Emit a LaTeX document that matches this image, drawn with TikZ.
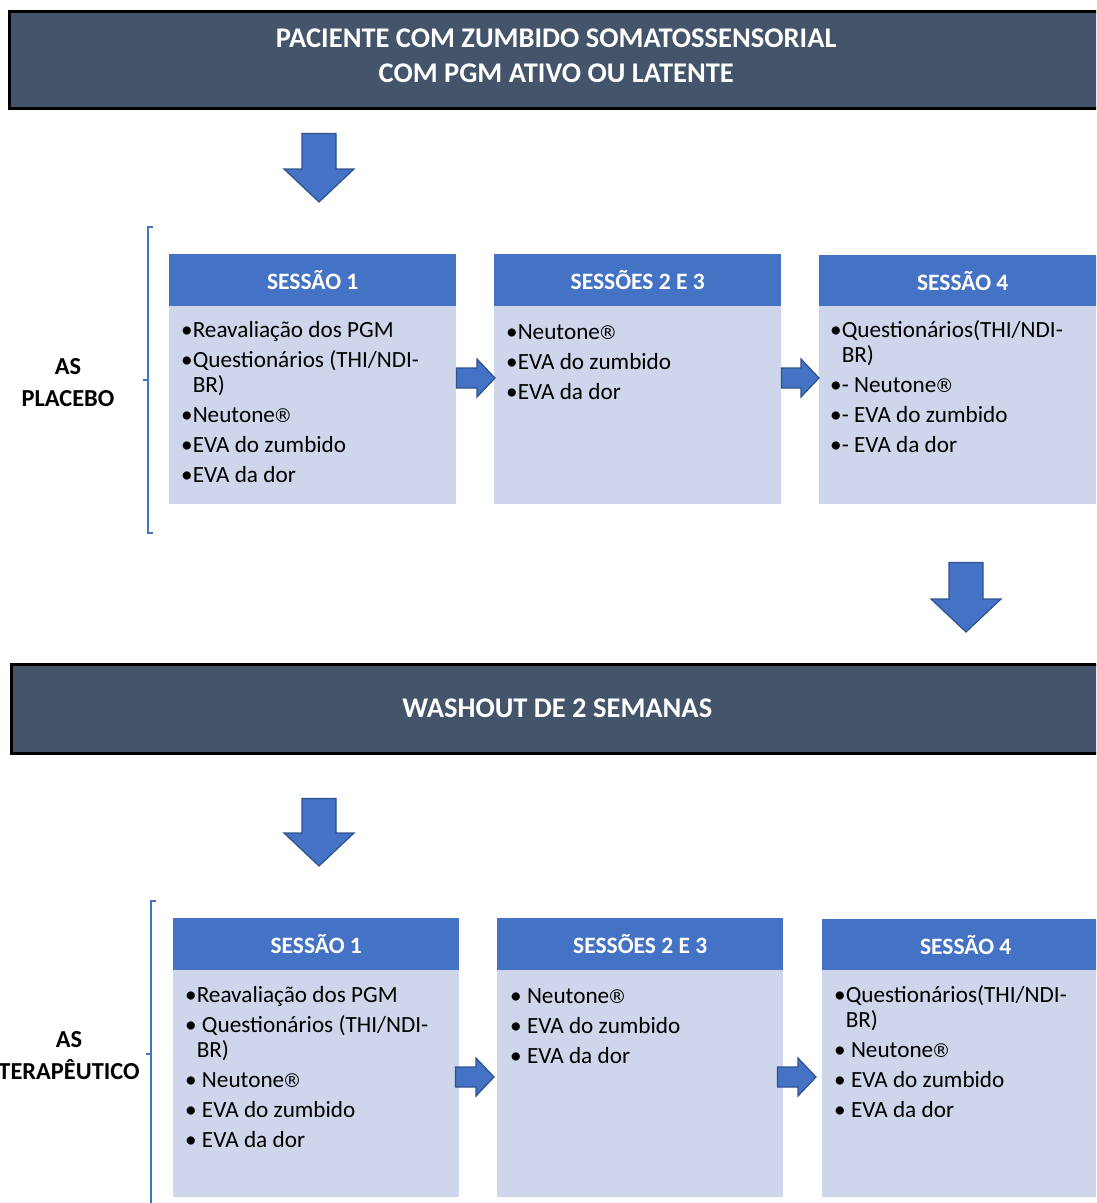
\documentclass[tikz,border=0pt]{standalone}
\usepackage{fontspec}
\setmainfont{Carlito}
\newfontfamily\regfont{DejaVu Sans}
\usetikzlibrary{calc}

\definecolor{bannergray}{HTML}{44546A}
\definecolor{hdrblue}{HTML}{4472C4}
\definecolor{bodyblue}{HTML}{CFD5EA}
\definecolor{edgeblue}{HTML}{2F528F}

% block arrows: #1 = start of shaft, #2 = tip
\newcommand{\blkdown}[2]{%
  \draw[blk] ($(#1)+(-17,0)$) -- ($(#2)+(-17,-33)$) -- ($(#2)+(-35,-33)$) -- (#2)
    -- ($(#2)+(35,-33)$) -- ($(#2)+(17,-33)$) -- ($(#1)+(17,0)$) -- cycle;}
\newcommand{\blkright}[2]{%
  \draw[blk] ($(#1)+(0,-10)$) -- ($(#2)+(-18,-10)$) -- ($(#2)+(-18,-19)$) -- (#2)
    -- ($(#2)+(-18,19)$) -- ($(#2)+(-18,10)$) -- ($(#1)+(0,10)$) -- cycle;}
\newcommand{\cont}[1]{\phantom{•}#1}
\newcommand{\reg}{\kern-1.5pt{\regfont\fontsize{19}{25}\selectfont ®}}

\begin{document}
\begin{tikzpicture}[x=1pt,y=-1pt]
\tikzstyle{bannerbox} = [rectangle, fill=bannergray, draw=black, line width=2.5pt, anchor=north west]
\tikzstyle{bannertxt} = [text=white, align=center, font=\bfseries\fontsize{28.5}{35}\selectfont]
\tikzstyle{hdr} = [rectangle, fill=hdrblue, text=white, minimum width=287pt, minimum height=52pt, anchor=north west, inner sep=0pt, font=\bfseries\fontsize{23.5}{25}\selectfont]
\tikzstyle{body} = [rectangle, fill=bodyblue, minimum width=287pt, anchor=north west, inner sep=0pt]
\tikzstyle{items} = [align=left, anchor=north west, inner sep=0pt, font=\fontsize{23.2}{25}\selectfont]
\tikzstyle{group} = [align=center, font=\bfseries\fontsize{24.4}{32}\selectfont]
\tikzstyle{blk} = [fill=hdrblue, draw=edgeblue, line width=1.2pt, line join=miter]
\tikzstyle{brk} = [draw=hdrblue, line width=1.2pt]

\useasboundingbox (0,0) rectangle (1096,1203);
\clip (0,0) rectangle (1096,1203);

    \path
        (8, 10) node[bannerbox, minimum width=1094pt, minimum height=97pt] (paciente) {}
        (10, 663) node[bannerbox, minimum width=1092pt, minimum height=89pt] (washout) {};
    \node[bannertxt] (pacientetxt) at ($(paciente.center)+(0,-4)$) {PACIENTE COM ZUMBIDO SOMATOSSENSORIAL\\COM PGM ATIVO OU LATENTE};
    \node[bannertxt] (washouttxt) at ($(washout.center)+(0,-1)$) {WASHOUT DE 2 SEMANAS};

    % placebo block
    \path
        (68, 383) node[group] (placebo) {AS\\PLACEBO}
        (169, 254) node[hdr] (h11) {SESSÃO 1}
        (494, 254) node[hdr] (h12) {SESSÕES 2 E 3}
        (819, 255) node[hdr, minimum height=51pt] (h13) {SESSÃO 4}
        (169, 306) node[body, minimum height=198pt] (b11) {}
        (494, 306) node[body, minimum height=198pt] (b12) {}
        (819, 306) node[body, minimum height=198pt] (b13) {};

    \node[items] (t11) at (181, 319) {\rule{0pt}{18pt}•Reavaliação dos PGM\\[5pt]
        •Questionários (THI/NDI-\\ \cont{BR)}\\[5pt] •Neutone\reg\\[5pt] •EVA do zumbido\\[5pt] •EVA da dor};
    \node[items] (t12) at (506, 321) {\rule{0pt}{18pt}•Neutone\reg\\[5pt] •EVA do zumbido\\[5pt] •EVA da dor};
    \node[items] (t13) at (830, 319) {\rule{0pt}{18pt}•Questionários(THI/NDI-\\ \cont{BR)}\\[5pt]
        •- Neutone\reg\\[5pt] •- EVA do zumbido\\[5pt] •- EVA da dor};

    % terapeutico block
    \path
        (69, 1056) node[group] (terapeutico) {AS\\TERAPÊUTICO}
        (173, 918) node[hdr, minimum width=286pt] (h21) {SESSÃO 1}
        (497, 918) node[hdr, minimum width=286pt] (h22) {SESSÕES 2 E 3}
        (822, 919) node[hdr, minimum height=51pt] (h23) {SESSÃO 4}
        (173, 970) node[body, minimum width=286pt, minimum height=227pt] (b21) {}
        (497, 970) node[body, minimum width=286pt, minimum height=227pt] (b22) {}
        (822, 970) node[body, minimum height=227pt] (b23) {};

    \node[items] (t21) at (185, 984) {\rule{0pt}{18pt}•Reavaliação dos PGM\\[5pt]
        • Questionários (THI/NDI-\\ \cont{BR)}\\[5pt] • Neutone\reg\\[5pt] • EVA do zumbido\\[5pt] • EVA da dor};
    \node[items] (t22) at (510, 985) {\rule{0pt}{18pt}• Neutone\reg\\[5pt] • EVA do zumbido\\[5pt] • EVA da dor};
    \node[items] (t23) at (834, 984) {\rule{0pt}{18pt}•Questionários(THI/NDI-\\ \cont{BR)}\\[5pt]
        • Neutone\reg\\[5pt] • EVA do zumbido\\[5pt] • EVA da dor};

    % brackets
    \draw[brk] (153, 227) -- (148, 227) -- (148, 533) -- (153, 533);
    \draw[brk] (148, 380) -- (143, 380);
    \draw[brk] (156, 901) -- (151, 901) -- (151, 1210);
    \draw[brk] (151, 1054) -- (146, 1054);

    % arrows
    \coordinate (d1s) at ($(paciente.south west)+(311,24)$);
    \coordinate (d1e) at ($(h11.north west)+(150,-52)$);
    \coordinate (d2s) at ($(b13.south west)+(147,58)$);
    \coordinate (d2e) at ($(washout.north west)+(956,-31)$);
    \coordinate (d3s) at ($(washout.south west)+(309,44)$);
    \coordinate (d3e) at ($(h21.north west)+(146,-52)$);
    \coordinate (r1s) at ($(b11.north east)+(0,72)$);
    \coordinate (r1e) at ($(b12.north west)+(1,72)$);
    \coordinate (r2s) at ($(b12.north east)+(0,72)$);
    \coordinate (r2e) at ($(b13.north west)+(0,72)$);
    \coordinate (r3s) at ($(b21.north east)+(-4,107)$);
    \coordinate (r3e) at ($(b22.north west)+(-3,107)$);
    \coordinate (r4s) at ($(b22.north east)+(-6,107)$);
    \coordinate (r4e) at ($(b23.north west)+(-6,107)$);

    \blkdown{d1s}{d1e}
    \blkdown{d2s}{d2e}
    \blkdown{d3s}{d3e}
    \blkright{r1s}{r1e}
    \blkright{r2s}{r2e}
    \blkright{r3s}{r3e}
    \blkright{r4s}{r4e}
\end{tikzpicture}
\end{document}
